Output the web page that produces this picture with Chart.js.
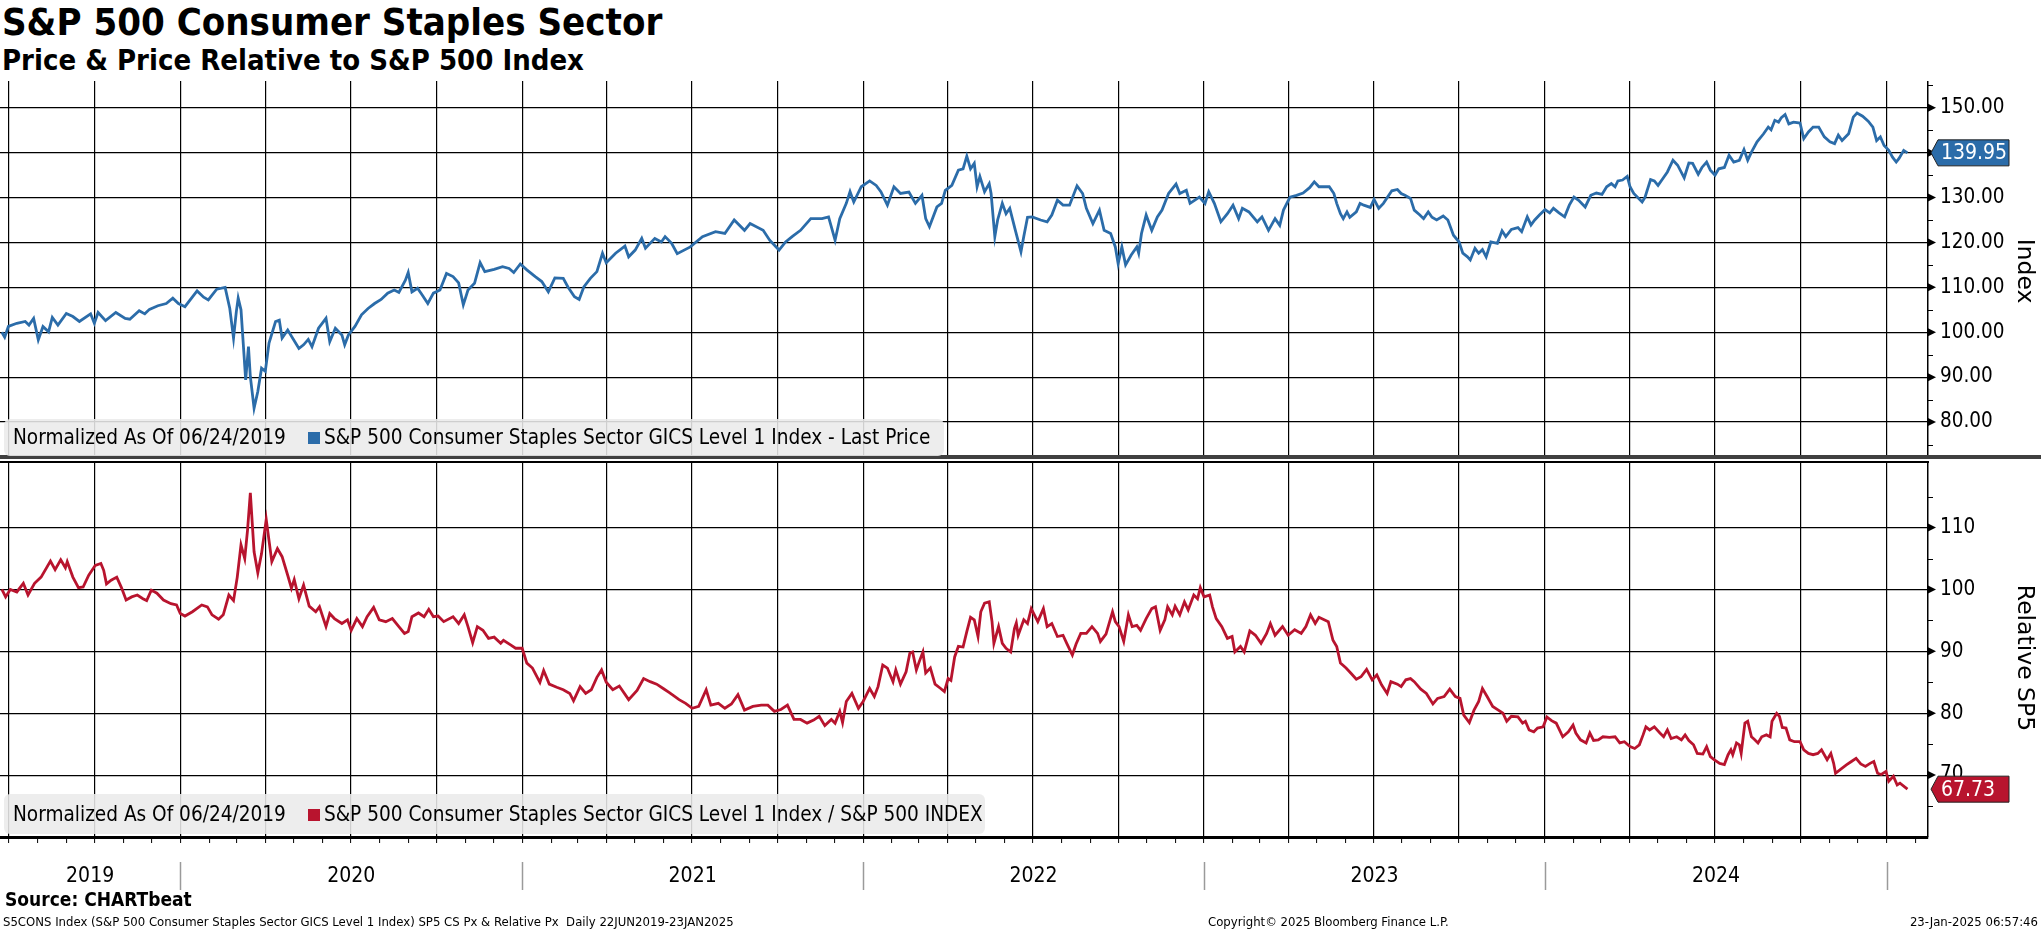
<!DOCTYPE html>
<html>
<head>
<meta charset="utf-8">
<title>S&amp;P 500 Consumer Staples Sector</title>
<script src="https://cdn.jsdelivr.net/npm/chart.js@4.4.1/dist/chart.umd.min.js"></script>
<style>
  html, body { margin: 0; padding: 0; background: #fff; }
  body { position: relative; width: 2041px; height: 932px; overflow: hidden;
         font-family: 'DejaVu Sans Condensed', 'DejaVu Sans', sans-serif; color: #000; }
  .abs { position: absolute; white-space: nowrap; }
  #title { left: 2px; top: 0px; font-size: 38px; font-weight: bold; }
  #subtitle { left: 2px; top: 43px; font-size: 29px; font-weight: bold; }
  #priceWrap { left: 0; top: 81px; }
  #relWrap { left: 0; top: 462px; }
  #divider { left: 0; top: 455px; width: 2041px; height: 4px; background: #404040; }
  #panelTop { left: 0; top: 461px; width: 1929px; height: 1.5px; background: #000; }
  .legend { height: 37px; line-height: 37px; background: rgba(234,234,234,0.88);
            border-radius: 6px; font-size: 20.6px; padding-left: 9px; box-sizing: border-box; }
  .swatch { display: inline-block; width: 12px; height: 12px; margin: 0 4px 0 22px; }
  .axisTitle { width: 300px; text-align: center; font-size: 23.5px; font-family: 'DejaVu Sans', sans-serif;
               transform: translate(-50%, -50%) rotate(90deg); }
  #source { left: 5px; top: 888px; font-size: 19px; font-weight: bold; }
  .foot { top: 914px; font-size: 13px; }
</style>
</head>
<body>
<div id="title" class="abs">S&amp;P 500 Consumer Staples Sector</div>
<div id="subtitle" class="abs">Price &amp; Price Relative to S&amp;P 500 Index</div>

<div id="priceWrap" class="abs"><canvas id="priceChart" width="2041" height="377"></canvas></div>
<div id="divider" class="abs"></div>
<div id="relWrap" class="abs"><canvas id="relChart" width="2041" height="470"></canvas></div>
<div id="panelTop" class="abs"></div>

<div class="abs legend" style="left:4px; top:419px; width:940px;">Normalized As Of 06/24/2019<span class="swatch" style="background:#2b6ca9"></span>S&amp;P 500 Consumer Staples Sector GICS Level 1 Index - Last Price</div>
<div class="abs legend" style="left:4px; top:794px; width:981px; height:40px; line-height:40px;">Normalized As Of 06/24/2019<span class="swatch" style="background:#b8142e"></span>S&amp;P 500 Consumer Staples Sector GICS Level 1 Index / S&amp;P 500 INDEX</div>

<div class="abs axisTitle" style="left:2026px; top:271px;">Index</div>
<div class="abs axisTitle" style="left:2026px; top:658px;">Relative SP5</div>

<div id="source" class="abs">Source: CHARTbeat</div>
<div class="abs foot" style="left:3px;">S5CONS Index (S&amp;P 500 Consumer Staples Sector GICS Level 1 Index) SP5 CS Px &amp; Relative Px&nbsp; Daily 22JUN2019-23JAN2025</div>
<div class="abs foot" style="left:1208px;">Copyright© 2025 Bloomberg Finance L.P.</div>
<div class="abs foot" style="right:3px;">23-Jan-2025 06:57:46</div>

<script>
// Sector price, normalised to 100 on 24 Jun 2019
var priceDates = [
  '2019-06-24','2019-06-27','2019-07-01','2019-07-10','2019-07-19','2019-07-23','2019-07-28','2019-08-02',
  '2019-08-07','2019-08-13','2019-08-17','2019-08-23','2019-09-01','2019-09-08','2019-09-15','2019-09-27',
  '2019-10-01','2019-10-05','2019-10-13','2019-10-24','2019-11-03','2019-11-08','2019-11-18','2019-11-24',
  '2019-11-29','2019-12-08','2019-12-17','2019-12-24','2019-12-30','2020-01-06','2020-01-19','2020-01-26',
  '2020-01-31','2020-02-09','2020-02-18','2020-02-23','2020-02-27','2020-03-01','2020-03-03','2020-03-06',
  '2020-03-11','2020-03-14','2020-03-16','2020-03-20','2020-03-24','2020-03-28','2020-04-01','2020-04-05',
  '2020-04-12','2020-04-16','2020-04-19','2020-04-25','2020-05-07','2020-05-12','2020-05-17','2020-05-21',
  '2020-05-28','2020-06-05','2020-06-09','2020-06-15','2020-06-22','2020-06-25','2020-06-29','2020-07-06',
  '2020-07-13','2020-07-20','2020-07-27','2020-08-03','2020-08-10','2020-08-17','2020-08-22','2020-08-29',
  '2020-09-01','2020-09-05','2020-09-11','2020-09-16','2020-09-22','2020-09-28','2020-10-05','2020-10-12',
  '2020-10-19','2020-10-25','2020-10-30','2020-11-04','2020-11-11','2020-11-17','2020-11-22','2020-12-02',
  '2020-12-11','2020-12-18','2020-12-23','2020-12-30','2021-01-06','2021-01-15','2021-01-22','2021-01-29',
  '2021-02-05','2021-02-14','2021-02-19','2021-02-26','2021-03-03','2021-03-08','2021-03-15','2021-03-22',
  '2021-03-28','2021-04-01','2021-04-11','2021-04-21','2021-04-25','2021-05-02','2021-05-09','2021-05-13',
  '2021-05-23','2021-05-30','2021-06-03','2021-06-10','2021-06-16','2021-06-30','2021-07-13','2021-07-27',
  '2021-08-06','2021-08-16','2021-08-27','2021-09-02','2021-09-16','2021-09-23','2021-10-03','2021-10-10',
  '2021-10-17','2021-10-26','2021-11-06','2021-11-18','2021-11-25','2021-12-02','2021-12-07','2021-12-14',
  '2021-12-18','2021-12-22','2021-12-30','2022-01-08','2022-01-15','2022-01-20','2022-01-27','2022-02-03',
  '2022-02-10','2022-02-19','2022-02-26','2022-03-05','2022-03-09','2022-03-13','2022-03-21','2022-03-26',
  '2022-03-30','2022-04-06','2022-04-13','2022-04-18','2022-04-22','2022-04-26','2022-04-30','2022-05-03',
  '2022-05-06','2022-05-11','2022-05-16','2022-05-18','2022-05-22','2022-05-25','2022-05-30','2022-06-03',
  '2022-06-07','2022-06-13','2022-06-19','2022-06-22','2022-06-26','2022-07-01','2022-07-10','2022-07-17',
  '2022-07-22','2022-07-28','2022-08-03','2022-08-10','2022-08-18','2022-08-24','2022-08-28','2022-09-04',
  '2022-09-11','2022-09-16','2022-09-23','2022-09-28','2022-10-01','2022-10-05','2022-10-09','2022-10-15',
  '2022-10-21','2022-10-23','2022-10-26','2022-10-31','2022-11-06','2022-11-12','2022-11-17','2022-11-24',
  '2022-12-02','2022-12-06','2022-12-13','2022-12-17','2022-12-27','2023-01-02','2023-01-06','2023-01-12',
  '2023-01-19','2023-01-26','2023-02-01','2023-02-07','2023-02-11','2023-02-18','2023-02-27','2023-03-04',
  '2023-03-11','2023-03-18','2023-03-23','2023-03-27','2023-04-03','2023-04-10','2023-04-17','2023-04-24',
  '2023-04-29','2023-05-04','2023-05-15','2023-05-20','2023-05-23','2023-05-27','2023-05-30','2023-06-03',
  '2023-06-06','2023-06-13','2023-06-17','2023-06-21','2023-06-28','2023-07-02','2023-07-07','2023-07-12',
  '2023-07-21','2023-07-27','2023-07-31','2023-08-04','2023-08-10','2023-08-14','2023-08-20','2023-08-24',
  '2023-08-29','2023-09-02','2023-09-07','2023-09-14','2023-09-19','2023-09-25','2023-10-01','2023-10-05',
  '2023-10-10','2023-10-13','2023-10-18','2023-10-22','2023-10-26','2023-10-30','2023-11-04','2023-11-11',
  '2023-11-16','2023-11-20','2023-11-26','2023-12-03','2023-12-07','2023-12-13','2023-12-17','2023-12-21',
  '2023-12-26','2024-01-01','2024-01-06','2024-01-10','2024-01-16','2024-01-22','2024-01-27','2024-02-01',
  '2024-02-06','2024-02-13','2024-02-19','2024-02-25','2024-03-02','2024-03-07','2024-03-12','2024-03-16',
  '2024-03-19','2024-03-24','2024-03-29','2024-04-01','2024-04-05','2024-04-14','2024-04-17','2024-04-23',
  '2024-04-27','2024-05-01','2024-05-06','2024-05-11','2024-05-17','2024-05-22','2024-05-29','2024-06-03',
  '2024-06-07','2024-06-13','2024-06-17','2024-06-22','2024-06-26','2024-07-01','2024-07-05','2024-07-11',
  '2024-07-16','2024-07-21','2024-07-27','2024-08-01','2024-08-05','2024-08-09','2024-08-15','2024-08-22',
  '2024-08-27','2024-08-30','2024-09-03','2024-09-07','2024-09-10','2024-09-14','2024-09-18','2024-09-23',
  '2024-09-30','2024-10-04','2024-10-09','2024-10-14','2024-10-20','2024-10-26','2024-11-01','2024-11-06',
  '2024-11-10','2024-11-14','2024-11-21','2024-11-26','2024-11-30','2024-12-06','2024-12-12','2024-12-17',
  '2024-12-21','2024-12-25','2024-12-29','2025-01-03','2025-01-07','2025-01-11','2025-01-14','2025-01-19',
  '2025-01-23'
];
var priceValues = [
  100.0, 98.9, 101.3, 102.0, 102.4, 101.6, 103.1, 98.3,
  101.3, 100.1, 103.3, 101.6, 104.2, 103.5, 102.4, 104.1,
  102.0, 104.4, 102.6, 104.4, 103.1, 102.9, 104.8, 104.1,
  105.1, 105.9, 106.4, 107.6, 106.4, 105.7, 109.2, 107.8,
  107.2, 109.6, 110.0, 105.3, 98.7, 104.6, 107.6, 105.0,
  89.4, 96.8, 90.1, 83.1, 86.8, 92.0, 91.3, 97.6,
  102.4, 102.7, 98.7, 100.5, 96.4, 97.2, 98.4, 96.8,
  100.9, 103.1, 97.9, 100.9, 99.4, 97.2, 99.4, 101.3,
  103.9, 105.3, 106.4, 107.3, 108.7, 109.4, 108.9, 111.6,
  113.3, 109.0, 109.8, 108.3, 106.4, 108.7, 109.4, 113.1,
  112.4, 111.0, 106.1, 109.4, 110.9, 115.5, 113.5, 114.0,
  114.6, 114.2, 113.3, 115.2, 113.9, 112.4, 111.3, 109.0,
  112.1, 112.0, 110.1, 107.9, 107.3, 110.1, 112.0, 113.5,
  117.6, 115.5, 117.6, 119.2, 116.8, 118.3, 120.9, 118.7,
  120.9, 120.1, 121.3, 119.8, 117.5, 119.0, 121.3, 122.4,
  122.0, 125.0, 122.7, 124.2, 122.7, 120.5, 118.3, 120.1,
  121.3, 122.7, 125.3, 125.3, 125.7, 120.5, 125.3, 128.7,
  131.3, 129.0, 132.4, 133.7, 132.7, 131.3, 128.3, 132.4,
  130.9, 131.2, 128.7, 130.5, 125.3, 123.5, 127.9, 128.7,
  131.6, 132.7, 136.1, 136.4, 139.2, 136.4, 137.6, 132.4,
  134.7, 131.3, 133.1, 130.9, 121.3, 125.0, 128.7, 126.4,
  127.6, 122.7, 117.9, 121.3, 125.6, 125.7, 125.0, 124.6,
  126.1, 129.4, 128.3, 128.3, 132.6, 130.9, 127.6, 124.2,
  127.2, 122.7, 122.0, 119.0, 115.3, 119.0, 115.0, 117.2,
  119.0, 117.6, 122.0, 126.1, 122.7, 125.7, 127.2, 130.9,
  133.0, 130.9, 131.6, 128.7, 130.1, 128.7, 131.3, 128.7,
  124.6, 126.4, 128.3, 125.3, 127.6, 126.8, 124.6, 125.7,
  122.7, 125.3, 123.8, 127.2, 130.1, 130.5, 131.0, 132.2,
  133.5, 132.4, 132.4, 130.9, 128.7, 126.4, 125.3, 126.8,
  125.6, 126.8, 128.7, 128.3, 127.8, 129.6, 127.6, 128.7,
  131.5, 131.8, 130.9, 130.5, 129.8, 127.2, 126.1, 125.3,
  126.8, 125.6, 125.0, 125.9, 125.0, 121.6, 120.1, 117.6,
  116.8, 116.1, 118.7, 117.6, 118.4, 116.8, 120.1, 119.8,
  122.6, 121.3, 122.9, 123.3, 122.4, 125.7, 123.9, 125.0,
  126.1, 127.3, 126.6, 127.6, 126.6, 125.7, 128.3, 130.1,
  129.4, 127.9, 130.5, 131.0, 130.7, 132.4, 133.1, 132.4,
  133.7, 133.9, 134.7, 132.4, 130.9, 129.0, 130.0, 134.0,
  133.7, 132.7, 134.2, 135.7, 138.3, 137.2, 134.4, 137.7,
  137.6, 135.2, 136.7, 137.9, 136.1, 135.0, 136.4, 136.7,
  139.4, 137.9, 138.3, 140.7, 138.3, 140.1, 142.4, 144.2,
  145.7, 145.1, 147.2, 146.8, 147.8, 148.5, 146.4, 146.8,
  146.6, 143.1, 144.6, 145.7, 145.7, 143.5, 142.4, 142.0,
  143.9, 142.7, 144.2, 147.9, 148.8, 148.1, 147.0, 145.7,
  142.7, 143.5, 141.6, 140.5, 139.0, 137.9, 138.7, 140.5,
  139.95
];

// Sector price relative to the S&P 500, normalised to 100 on 24 Jun 2019
var relDates = [
  '2019-06-24','2019-06-28','2019-07-03','2019-07-10','2019-07-17','2019-07-22','2019-07-29','2019-08-05',
  '2019-08-15','2019-08-20','2019-08-26','2019-08-31','2019-09-02','2019-09-08','2019-09-14','2019-09-19',
  '2019-09-25','2019-10-02','2019-10-08','2019-10-11','2019-10-14','2019-10-19','2019-10-25','2019-10-30',
  '2019-11-04','2019-11-10','2019-11-16','2019-11-22','2019-11-26','2019-12-01','2019-12-07','2019-12-14',
  '2019-12-22','2019-12-28','2020-01-01','2020-01-06','2020-01-14','2020-01-24','2020-01-30','2020-02-04',
  '2020-02-11','2020-02-16','2020-02-22','2020-02-27','2020-03-02','2020-03-06','2020-03-10','2020-03-13',
  '2020-03-16','2020-03-20','2020-03-24','2020-03-28','2020-04-02','2020-04-08','2020-04-14','2020-04-19',
  '2020-04-25','2020-04-29','2020-05-02','2020-05-07','2020-05-12','2020-05-18','2020-05-25','2020-05-29',
  '2020-06-05','2020-06-09','2020-06-14','2020-06-22','2020-06-28','2020-07-02','2020-07-08','2020-07-14',
  '2020-07-19','2020-07-26','2020-08-01','2020-08-08','2020-08-15','2020-08-22','2020-08-28','2020-09-01',
  '2020-09-05','2020-09-12','2020-09-18','2020-09-23','2020-09-28','2020-10-03','2020-10-09','2020-10-19',
  '2020-10-25','2020-10-31','2020-11-04','2020-11-09','2020-11-14','2020-11-20','2020-11-26','2020-12-02',
  '2020-12-09','2020-12-12','2020-12-20','2020-12-25','2021-01-01','2021-01-06','2021-01-12','2021-01-20',
  '2021-01-24','2021-01-30','2021-02-07','2021-02-14','2021-02-21','2021-02-25','2021-03-04','2021-03-10',
  '2021-03-16','2021-03-22','2021-03-27','2021-04-01','2021-04-08','2021-04-15','2021-04-25','2021-05-04',
  '2021-05-11','2021-05-18','2021-05-25','2021-06-01','2021-06-08','2021-06-18','2021-06-25','2021-07-02',
  '2021-07-09','2021-07-17','2021-07-22','2021-07-30','2021-08-06','2021-08-13','2021-08-20','2021-08-27',
  '2021-09-05','2021-09-14','2021-09-21','2021-09-28','2021-10-05','2021-10-12','2021-10-19','2021-10-26',
  '2021-11-02','2021-11-09','2021-11-15','2021-11-21','2021-11-28','2021-12-02','2021-12-07','2021-12-10',
  '2021-12-14','2021-12-20','2021-12-27','2022-01-01','2022-01-08','2022-01-13','2022-01-17','2022-01-22',
  '2022-01-27','2022-02-02','2022-02-05','2022-02-10','2022-02-16','2022-02-20','2022-02-23','2022-02-27',
  '2022-03-02','2022-03-06','2022-03-09','2022-03-14','2022-03-19','2022-03-25','2022-03-29','2022-04-02',
  '2022-04-05','2022-04-09','2022-04-13','2022-04-18','2022-04-22','2022-04-26','2022-04-30','2022-05-04',
  '2022-05-07','2022-05-11','2022-05-16','2022-05-19','2022-05-21','2022-05-26','2022-05-30','2022-06-03',
  '2022-06-08','2022-06-12','2022-06-14','2022-06-16','2022-06-22','2022-06-26','2022-06-30','2022-07-07',
  '2022-07-13','2022-07-17','2022-07-22','2022-07-28','2022-08-03','2022-08-07','2022-08-13','2022-08-17',
  '2022-08-22','2022-08-28','2022-09-03','2022-09-09','2022-09-12','2022-09-18','2022-09-25','2022-09-28',
  '2022-10-02','2022-10-07','2022-10-12','2022-10-16','2022-10-21','2022-10-25','2022-10-31','2022-11-06',
  '2022-11-10','2022-11-15','2022-11-20','2022-11-23','2022-11-28','2022-12-01','2022-12-06','2022-12-11',
  '2022-12-15','2022-12-21','2022-12-25','2022-12-28','2023-01-01','2023-01-07','2023-01-10','2023-01-14',
  '2023-01-20','2023-01-26','2023-01-31','2023-02-03','2023-02-09','2023-02-13','2023-02-19','2023-02-25',
  '2023-03-03','2023-03-09','2023-03-13','2023-03-18','2023-03-26','2023-04-01','2023-04-08','2023-04-15',
  '2023-04-20','2023-04-25','2023-04-30','2023-05-04','2023-05-14','2023-05-19','2023-05-23','2023-05-27',
  '2023-06-02','2023-06-07','2023-06-13','2023-06-18','2023-06-24','2023-06-30','2023-07-05','2023-07-10',
  '2023-07-16','2023-07-20','2023-07-27','2023-07-31','2023-08-05','2023-08-10','2023-08-14','2023-08-21',
  '2023-08-27','2023-09-03','2023-09-08','2023-09-15','2023-09-21','2023-09-27','2023-10-02','2023-10-06',
  '2023-10-12','2023-10-17','2023-10-22','2023-10-26','2023-10-31','2023-11-06','2023-11-12','2023-11-17',
  '2023-11-21','2023-11-26','2023-12-03','2023-12-08','2023-12-11','2023-12-15','2023-12-20','2023-12-24',
  '2023-12-30','2024-01-03','2024-01-08','2024-01-13','2024-01-20','2024-01-26','2024-01-31','2024-02-03',
  '2024-02-08','2024-02-14','2024-02-18','2024-02-22','2024-02-27','2024-03-03','2024-03-10','2024-03-16',
  '2024-03-21','2024-03-26','2024-04-01','2024-04-06','2024-04-11','2024-04-15','2024-04-18','2024-04-22',
  '2024-04-27','2024-05-03','2024-05-07','2024-05-11','2024-05-15','2024-05-21','2024-05-26','2024-05-30',
  '2024-06-03','2024-06-08','2024-06-12','2024-06-18','2024-06-22','2024-06-26','2024-06-30','2024-07-06',
  '2024-07-11','2024-07-15','2024-07-18','2024-07-20','2024-07-24','2024-07-27','2024-07-29','2024-08-02',
  '2024-08-05','2024-08-09','2024-08-12','2024-08-16','2024-08-20','2024-08-25','2024-08-29','2024-08-31',
  '2024-09-05','2024-09-08','2024-09-11','2024-09-15','2024-09-19','2024-09-24','2024-09-30','2024-10-04',
  '2024-10-09','2024-10-14','2024-10-19','2024-10-23','2024-10-29','2024-11-02','2024-11-05','2024-11-07',
  '2024-11-12','2024-11-19','2024-11-24','2024-11-29','2024-12-04','2024-12-09','2024-12-14','2024-12-18',
  '2024-12-22','2024-12-26','2024-12-31','2025-01-03','2025-01-08','2025-01-12','2025-01-15','2025-01-23'
];
var relValues = [
  100.0, 98.8, 100.0, 99.6, 101.0, 99.1, 101.0, 102.0,
  104.6, 103.2, 104.8, 103.5, 104.5, 102.0, 100.3, 100.4,
  102.3, 103.9, 104.2, 103.1, 100.9, 101.5, 102.0, 100.3,
  98.3, 98.8, 99.1, 98.5, 98.2, 99.9, 99.4, 98.3,
  97.7, 97.5, 96.1, 95.7, 96.4, 97.5, 97.2, 95.9,
  95.2, 95.9, 99.1, 98.2, 102.0, 107.2, 105.0, 109.6,
  115.6, 106.1, 102.7, 105.8, 111.3, 104.5, 106.6, 105.3,
  102.3, 100.2, 101.6, 98.5, 100.7, 97.3, 96.4, 97.2,
  94.0, 96.1, 95.3, 94.5, 95.1, 93.4, 95.3, 94.0,
  95.6, 97.1, 95.1, 94.8, 95.3, 94.0, 92.9, 93.2,
  95.6, 96.2, 95.6, 96.8, 95.6, 95.7, 94.8, 95.6,
  94.5, 95.9, 94.0, 91.4, 94.0, 93.4, 92.1, 92.3,
  91.3, 91.8, 91.0, 90.5, 90.5, 88.1, 87.3, 85.0,
  86.9, 84.7, 84.2, 83.8, 83.2, 82.0, 84.3, 83.2,
  83.8, 85.8, 87.0, 85.0, 83.8, 84.4, 82.2, 83.7,
  85.6, 85.1, 84.7, 84.0, 83.3, 82.2, 81.6, 80.8,
  81.1, 83.8, 81.3, 81.6, 80.8, 81.5, 83.0, 80.5,
  81.1, 81.3, 81.3, 80.3, 80.6, 81.3, 79.0, 79.0,
  78.4, 78.9, 79.5, 78.0, 79.0, 78.4, 80.3, 78.5,
  81.9, 83.2, 80.8, 81.9, 84.0, 82.7, 84.3, 87.8,
  87.3, 85.1, 87.0, 84.7, 86.7, 89.7, 89.9, 87.0,
  88.3, 89.9, 86.5, 87.3, 84.7, 84.0, 83.5, 85.6,
  85.3, 89.1, 90.8, 90.7, 93.2, 95.5, 95.1, 92.4,
  96.4, 97.8, 98.0, 94.8, 91.3, 94.0, 91.3, 90.5,
  89.9, 93.7, 94.6, 92.6, 95.1, 94.5, 96.9, 94.8,
  96.9, 94.0, 94.5, 92.4, 92.6, 91.3, 89.4, 91.2,
  92.9, 92.9, 94.0, 92.9, 91.6, 92.8, 96.4, 94.8,
  94.0, 91.6, 95.9, 94.0, 94.2, 93.4, 95.3, 96.9,
  97.2, 93.4, 95.1, 97.2, 95.9, 97.3, 95.9, 98.0,
  96.7, 99.1, 98.5, 100.3, 98.8, 99.1, 97.2, 95.3,
  94.0, 92.1, 92.4, 89.9, 90.8, 89.9, 93.3, 92.6,
  91.3, 92.9, 94.5, 92.6, 94.0, 92.6, 93.5, 92.9,
  94.0, 95.9, 94.5, 95.5, 94.8, 91.8, 90.8, 88.1,
  87.3, 86.5, 85.5, 85.9, 87.1, 85.4, 86.2, 84.6,
  83.2, 85.1, 84.7, 84.3, 85.4, 85.6, 85.1, 83.9,
  83.2, 81.5, 82.4, 82.7, 83.9, 82.7, 82.4, 79.7,
  78.5, 80.5, 81.9, 84.0, 82.7, 81.1, 80.5, 80.0,
  78.7, 79.5, 79.4, 78.4, 78.7, 77.3, 77.0, 77.6,
  77.8, 79.4, 78.8, 78.4, 76.2, 77.0, 78.1, 76.8,
  75.7, 75.2, 76.8, 75.6, 75.7, 76.2, 76.1, 76.2,
  75.2, 75.4, 74.6, 74.3, 74.9, 76.5, 77.8, 77.3,
  77.8, 76.8, 76.2, 77.3, 75.9, 76.2, 75.7, 76.5,
  75.6, 74.9, 73.5, 73.4, 74.6, 73.0, 72.5, 71.9,
  71.7, 73.3, 74.1, 73.3, 75.2, 74.9, 73.5, 78.4,
  78.7, 76.2, 75.8, 75.2, 76.2, 76.5, 76.2, 78.7,
  80.0, 79.5, 77.7, 77.6, 75.7, 75.4, 75.4, 74.1,
  73.5, 73.3, 73.5, 74.1, 72.5, 73.5, 71.9, 70.3,
  70.9, 71.7, 72.2, 72.7, 71.8, 71.4, 71.9, 72.2,
  70.3, 70.1, 70.6, 69.0, 69.8, 68.4, 68.7, 67.73
];

// Axis labels
var priceTicks = [80, 90, 100, 110, 120, 130, 140, 150];
var priceMinorTicks = [75, 85, 95, 105, 115, 125, 135, 145, 155];
var relTicks = [70, 80, 90, 100, 110];
var relMinorTicks = [65, 75, 85, 95, 105, 115];
var yearLabels = ['2019', '2020', '2021', '2022', '2023', '2024'];

var FONT = "'DejaVu Sans Condensed', 'DejaVu Sans', sans-serif";

function dayNum(s) {
  var p = s.split('-');
  return Date.UTC(+p[0], +p[1] - 1, +p[2]) / 86400000;
}

var xMin = dayNum('2019-06-22');
var xMax = dayNum('2025-02-14');

// month starts inside the range, quarters get a grid line
var monthTicks = [];
for (var yy = 2019; yy <= 2025; yy++) {
  for (var mm = 1; mm <= 12; mm++) {
    var d = Date.UTC(yy, mm - 1, 1) / 86400000;
    if (d > xMin && d < xMax) monthTicks.push(d);
  }
}

function isQuarter(v) {
  return new Date(v * 86400000).getUTCMonth() % 3 === 0;
}

function toPoints(dates, values) {
  return dates.map(function (s, i) { return { x: dayNum(s), y: values[i] }; });
}

function noPadding(s) {
  s.paddingTop = 0;
  s.paddingBottom = 0;
  s.paddingLeft = 0;
  s.paddingRight = 0;
}

function panelOptions(yMin, yMax, ticks, digits, bottomAxis) {
  return {
    responsive: false,
    animation: false,
    events: [],
    layout: { padding: 0 },
    plugins: { legend: { display: false }, tooltip: { enabled: false } },
    scales: {
      x: {
        type: 'linear',
        min: xMin,
        max: xMax,
        afterBuildTicks: function (s) {
          s.ticks = monthTicks.map(function (v) { return { value: v }; });
        },
        afterFit: function (s) {
          s.height = bottomAxis ? 95 : 0;
          noPadding(s);
        },
        ticks: { display: false },
        grid: {
          color: function (c) {
            return c.tick && isQuarter(c.tick.value) ? '#000' : 'rgba(0,0,0,0)';
          },
          lineWidth: 1.2,
          drawTicks: bottomAxis,
          tickLength: 6,
          tickColor: '#000',
          tickWidth: 1
        },
        border: { display: bottomAxis, color: '#000', width: 3 }
      },
      y: {
        type: 'linear',
        position: 'right',
        min: yMin,
        max: yMax,
        afterBuildTicks: function (s) {
          s.ticks = ticks.map(function (v) { return { value: v }; });
        },
        afterFit: function (s) {
          s.width = 113;
          noPadding(s);
        },
        ticks: {
          padding: 12,
          color: '#000',
          font: { family: FONT, size: 20.5 },
          callback: function (v) { return v.toFixed(digits); }
        },
        grid: { color: '#000', lineWidth: 1.2, drawTicks: false },
        border: { display: true, color: '#000', width: 1.5 }
      }
    }
  };
}

// arrow marks on the right axis and the last-value tag
function axisMarks(minor, tagColor, digits) {
  return {
    id: 'axisMarks',
    afterDraw: function (chart) {
      var ctx = chart.ctx, ys = chart.scales.y, ax = chart.chartArea.right;
      ctx.save();
      ctx.fillStyle = '#000';
      ctx.strokeStyle = '#000';
      ctx.lineWidth = 1;
      ys.ticks.forEach(function (t) {
        var py = ys.getPixelForValue(t.value);
        ctx.beginPath();
        ctx.moveTo(ax, py - 4);
        ctx.lineTo(ax + 8, py);
        ctx.lineTo(ax, py + 4);
        ctx.closePath();
        ctx.fill();
      });
      minor.forEach(function (v) {
        var py = Math.round(ys.getPixelForValue(v)) + 0.5;
        ctx.beginPath();
        ctx.moveTo(ax, py);
        ctx.lineTo(ax + 5, py);
        ctx.stroke();
      });

      var data = chart.data.datasets[0].data;
      var last = data[data.length - 1].y;
      var ty = ys.getPixelForValue(last);
      ctx.beginPath();
      ctx.moveTo(ax + 3, ty);
      ctx.lineTo(ax + 10, ty - 13);
      ctx.lineTo(ax + 81, ty - 13);
      ctx.lineTo(ax + 81, ty + 13);
      ctx.lineTo(ax + 10, ty + 13);
      ctx.closePath();
      ctx.fillStyle = tagColor;
      ctx.fill();
      ctx.strokeStyle = '#222';
      ctx.stroke();
      ctx.fillStyle = '#fff';
      ctx.font = '21px ' + FONT;
      ctx.textBaseline = 'middle';
      ctx.textAlign = 'left';
      ctx.fillText(last.toFixed(digits), ax + 13, ty + 1);
      ctx.restore();
    }
  };
}

// year captions and separators under the lower panel
var yearAxis = {
  id: 'yearAxis',
  afterDraw: function (chart) {
    var ctx = chart.ctx, xs = chart.scales.x, base = chart.chartArea.bottom;
    ctx.save();
    ctx.fillStyle = '#000';
    ctx.font = '21px ' + FONT;
    ctx.textAlign = 'center';
    ctx.textBaseline = 'middle';
    yearLabels.forEach(function (lbl) {
      var y0 = +lbl;
      var a = Math.max(dayNum(y0 + '-01-01'), xs.min);
      var b = Math.min(dayNum((y0 + 1) + '-01-01'), xs.max);
      ctx.fillText(lbl, (xs.getPixelForValue(a) + xs.getPixelForValue(b)) / 2, base + 40);
    });
    ctx.strokeStyle = '#9a9a9a';
    ctx.lineWidth = 1.5;
    for (var yr = 2020; yr <= 2025; yr++) {
      var px = Math.round(xs.getPixelForValue(dayNum(yr + '-01-01'))) + 0.5;
      ctx.beginPath();
      ctx.moveTo(px, base + 25);
      ctx.lineTo(px, base + 53);
      ctx.stroke();
    }
    ctx.restore();
  }
};

var priceChart = new Chart(document.getElementById('priceChart'), {
  type: 'line',
  data: {
    datasets: [{
      data: toPoints(priceDates, priceValues),
      borderColor: '#2b6ca9',
      borderWidth: 2.8,
      pointRadius: 0,
      tension: 0,
      fill: false
    }]
  },
  options: panelOptions(72.0, 155.95, priceTicks, 2, false),
  plugins: [axisMarks(priceMinorTicks, '#2b6ca9', 2)]
});

var relChart = new Chart(document.getElementById('relChart'), {
  type: 'line',
  data: {
    datasets: [{
      data: toPoints(relDates, relValues),
      borderColor: '#b8142e',
      borderWidth: 2.8,
      pointRadius: 0,
      tension: 0,
      fill: false
    }]
  },
  options: panelOptions(60.0, 120.6, relTicks, 0, true),
  plugins: [axisMarks(relMinorTicks, '#b8142e', 2), yearAxis]
});
</script>
</body>
</html>
